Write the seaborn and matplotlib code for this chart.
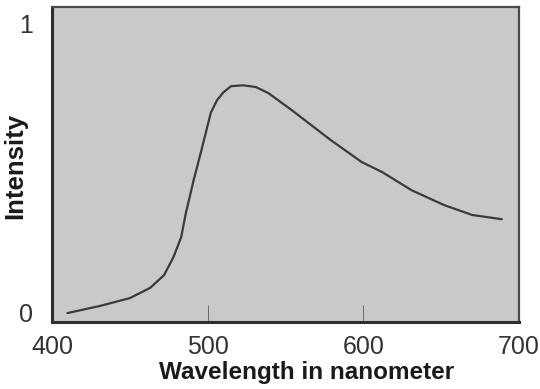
import matplotlib
matplotlib.use("Agg")
import matplotlib.pyplot as plt
import seaborn as sns

# spectrum
wavelength = [410, 431, 450, 463, 472, 478, 483, 486, 488, 491, 496, 502,
              506, 510, 515, 523, 531, 539, 554, 579, 599, 612, 631, 652,
              670, 689]
intensity = [0.030, 0.054, 0.080, 0.114, 0.157, 0.217, 0.284, 0.365, 0.408,
             0.475, 0.575, 0.700, 0.742, 0.768, 0.789, 0.792, 0.786, 0.766,
             0.709, 0.609, 0.535, 0.502, 0.441, 0.391, 0.358, 0.344]
x_ticks = [400, 500, 600, 700]
x_tick_labels = ["400", "500", "600", "700"]
y_ticks = [0, 1]
y_tick_labels = ["0", "1"]

sns.set_style("white")
plt.rcParams["font.family"] = ["Liberation Sans", "DejaVu Sans"]

fig = plt.figure(figsize=(5.4, 3.89), dpi=100)
ax = fig.add_axes([0.0963, 0.1722, 0.8648, 0.8098])
ax.set_facecolor("#c9c9c9")

sns.lineplot(x=wavelength, y=intensity, ax=ax, color="#3a3a3a",
             linewidth=1.6, sort=False)

ax.set_xlim(400, 700)
ax.set_ylim(0, 1.054)
ax.set_xticks(x_ticks)
ax.set_xticklabels(x_tick_labels)
ax.set_yticks(y_ticks)
ax.set_yticklabels(y_tick_labels)
ax.tick_params(axis="x", bottom=True, direction="in", length=12, width=0.7,
               color="#6a6a6a", pad=9, labelsize=18, labelcolor="#333333")
ax.tick_params(axis="y", length=0, pad=14, labelsize=18, labelcolor="#333333")
ax.get_yticklabels()[0].set_verticalalignment("baseline")

for side in ["left", "bottom"]:
    ax.spines[side].set_linewidth(2.2)
    ax.spines[side].set_color("#2e2e2e")
for side in ["top", "right"]:
    ax.spines[side].set_linewidth(1.6)
    ax.spines[side].set_color("#4a4a4a")

fig.text(307 / 540, 1 - 372 / 389, "Wavelength in nanometer", ha="center",
         va="center", fontsize=17.5, fontweight="bold", color="#1a1a1a")
fig.text(15 / 540, 1 - 166 / 389, "Intensity", ha="center", va="center",
         rotation=90, fontsize=18.5, fontweight="bold", color="#1a1a1a")

fig.savefig("out.png", dpi=100)
